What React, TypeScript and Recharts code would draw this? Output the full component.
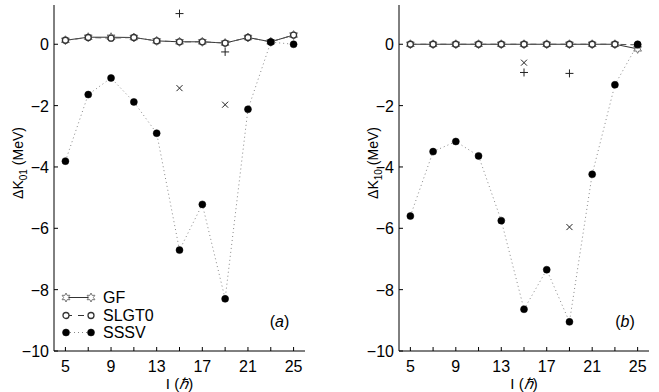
import type {ReactElement} from 'react';
import {ComposedChart, Line, XAxis, YAxis, Legend} from 'recharts';

const spins = [5, 7, 9, 11, 13, 15, 17, 19, 21, 23, 25];

// panel (a): ΔK01
const gfA = [0.13, 0.23, 0.23, 0.22, 0.11, 0.08, 0.08, 0.04, 0.22, 0.08, 0.3];
const slgt0A = [0.13, 0.22, 0.2, 0.22, 0.11, 0.08, 0.08, 0.04, 0.22, 0.08, 0.3];
const sssvA = [-3.81, -1.64, -1.1, -1.88, -2.9, -6.71, -5.22, -8.3, -2.12, 0.07, 0.0];
const plusA = [null, null, null, null, null, 1.0, null, -0.25, null, null, null];
const crossA = [null, null, null, null, null, -1.43, null, -1.97, null, null, null];

// panel (b): ΔK10
const gfB = [0, 0, 0, 0, 0, 0, 0, 0, 0, 0, -0.15];
const slgt0B = [0, 0, 0, 0, 0, 0, 0, 0, 0, 0, -0.02];
const sssvB = [-5.6, -3.5, -3.17, -3.64, -5.75, -8.64, -7.35, -9.05, -4.24, -1.32, 0.0];
const plusB = [null, null, null, null, null, -0.92, null, -0.95, null, null, null];
const crossB = [null, null, null, null, null, -0.6, null, -5.96, null, null, null];

const xTicks = [5, 7, 9, 11, 13, 15, 17, 19, 21, 23, 25];
const xLabels = [5, 9, 13, 17, 21, 25];
const yTicks = [-10, -8, -6, -4, -2, 0];

const FONT = '"Liberation Sans", Arial, sans-serif';

type Row = {
  spin: number;
  gf: number;
  slgt0: number;
  sssv: number;
  plus: number | null;
  cross: number | null;
};

const buildRows = (
  gf: number[],
  slgt0: number[],
  sssv: number[],
  plus: (number | null)[],
  cross: (number | null)[],
): Row[] =>
  spins.map((spin, i) => ({
    spin,
    gf: gf[i],
    slgt0: slgt0[i],
    sssv: sssv[i],
    plus: plus[i],
    cross: cross[i],
  }));

const rowsA = buildRows(gfA, slgt0A, sssvA, plusA, crossA);
const rowsB = buildRows(gfB, slgt0B, sssvB, plusB, crossB);

const fmt = (v: number) => String(v).replace('-', '\u2212');

// six pointed star marker
const starPath = (cx: number, cy: number, ro: number, ri: number) => {
  const pts: string[] = [];
  for (let k = 0; k < 12; k++) {
    const r = k % 2 === 0 ? ro : ri;
    const a = -Math.PI / 2 + (k * Math.PI) / 6;
    pts.push(`${(cx + r * Math.cos(a)).toFixed(2)},${(cy + r * Math.sin(a)).toFixed(2)}`);
  }
  return `M${pts.join('L')}Z`;
};

const Star = ({cx, cy}: {cx: number; cy: number}) => (
  <path d={starPath(cx, cy, 4.5, 2.4)} fill="#fff" stroke="#777" strokeWidth={1} />
);
const OpenCircle = ({cx, cy}: {cx: number; cy: number}) => (
  <circle cx={cx} cy={cy} r={3} fill="#fff" stroke="#333" strokeWidth={1.3} />
);
const FilledCircle = ({cx, cy}: {cx: number; cy: number}) => (
  <circle cx={cx} cy={cy} r={3.5} fill="#000" stroke="#000" strokeWidth={0.5} />
);

const validPoint = (p: any) =>
  p && p.cx != null && p.cy != null && p.value != null && !Number.isNaN(p.cy);

const starDot = (p: any) =>
  validPoint(p) ? <Star key={`s${p.index}`} cx={p.cx} cy={p.cy} /> : <g key={`s${p.index}`} />;
const circleDot = (p: any) =>
  validPoint(p) ? <OpenCircle key={`c${p.index}`} cx={p.cx} cy={p.cy} /> : <g key={`c${p.index}`} />;
const filledDot = (p: any) =>
  validPoint(p) ? <FilledCircle key={`f${p.index}`} cx={p.cx} cy={p.cy} /> : <g key={`f${p.index}`} />;
const plusDot = (p: any) =>
  validPoint(p) ? (
    <path
      key={`p${p.index}`}
      d={`M${p.cx - 4},${p.cy}H${p.cx + 4}M${p.cx},${p.cy - 4}V${p.cy + 4}`}
      stroke="#222"
      strokeWidth={1}
    />
  ) : (
    <g key={`p${p.index}`} />
  );
const crossDot = (p: any) =>
  validPoint(p) ? (
    <path
      key={`x${p.index}`}
      d={`M${p.cx - 3},${p.cy - 3}L${p.cx + 3},${p.cy + 3}M${p.cx - 3},${p.cy + 3}L${p.cx + 3},${p.cy - 3}`}
      stroke="#222"
      strokeWidth={1}
    />
  ) : (
    <g key={`x${p.index}`} />
  );

const BottomTick = (props: any) => {
  const {x, y, payload} = props;
  const v = payload.value as number;
  return (
    <g>
      <line x1={x} y1={y} x2={x} y2={y - 4} stroke="#000" />
      {xLabels.includes(v) && (
        <text x={x} y={y + 21} textAnchor="middle" fontSize={16} fontFamily={FONT} fill="#000">
          {v}
        </text>
      )}
    </g>
  );
};

const TopTick = (props: any) => (
  <line x1={props.x} y1={props.y} x2={props.x} y2={props.y + 4} stroke="#000" />
);

const LeftTick = (props: any) => {
  const {x, y, payload} = props;
  return (
    <g>
      <line x1={x} y1={y} x2={x + 4} y2={y} stroke="#000" />
      <text x={x - 5} y={y + 6} textAnchor="end" fontSize={16} fontFamily={FONT} fill="#000">
        {fmt(payload.value)}
      </text>
    </g>
  );
};

const RightTick = (props: any) => (
  <line x1={props.x} y1={props.y} x2={props.x - 4} y2={props.y} stroke="#000" />
);

const legendItems = [
  {key: 'gf', name: 'GF'},
  {key: 'slgt0', name: 'SLGT0'},
  {key: 'sssv', name: 'SSSV'},
];

const LegendSample = ({kind}: {kind: string}) => (
  <svg width={36} height={17}>
    {kind === 'gf' && (
      <>
        <line x1={5} y1={8.5} x2={30} y2={8.5} stroke="#333" strokeWidth={1} />
        <Star cx={5} cy={8.5} />
        <Star cx={30} cy={8.5} />
      </>
    )}
    {kind === 'slgt0' && (
      <>
        <line x1={5} y1={8.5} x2={30} y2={8.5} stroke="#333" strokeWidth={1} strokeDasharray="6 6" />
        <OpenCircle cx={5} cy={8.5} />
        <OpenCircle cx={30} cy={8.5} />
      </>
    )}
    {kind === 'sssv' && (
      <>
        <line x1={5} y1={8.5} x2={30} y2={8.5} stroke="#888" strokeWidth={1} strokeDasharray="1 3" />
        <FilledCircle cx={5} cy={8.5} />
        <FilledCircle cx={30} cy={8.5} />
      </>
    )}
  </svg>
);

const LegendBox = () => (
  <div style={{fontFamily: FONT, fontSize: 16, color: '#000'}}>
    {legendItems.map((item) => (
      <div key={item.key} style={{display: 'flex', alignItems: 'center', height: 17.5}}>
        <LegendSample kind={item.key} />
        <span style={{marginLeft: 6, lineHeight: '17px'}}>{item.name}</span>
      </div>
    ))}
  </div>
);

type PanelProps = {
  rows: Row[];
  sub: string;
  tag: string;
  left: number;
  width: number;
  marginRight: number;
  titleX: number;
  showLegend: boolean;
};

const DOMAIN_X: [number, number] = [4, 26];
const DOMAIN_Y: [number, number] = [-10, 1.28];

function Panel({rows, sub, tag, left, width, marginRight, titleX, showLegend}: PanelProps): ReactElement {
  const plotLeft = 54;
  const plotRight = width - marginRight;
  const centerX = (plotLeft + plotRight) / 2;
  return (
    <div style={{position: 'absolute', left, top: 0, width, height: 392}}>
      <ComposedChart
        width={width}
        height={392}
        data={rows}
        margin={{top: 5, right: marginRight, bottom: 1, left: 0}}
      >
        <XAxis
          dataKey="spin"
          type="number"
          domain={DOMAIN_X}
          ticks={xTicks}
          interval={0}
          allowDataOverflow
          height={40}
          tickSize={0}
          tickMargin={0}
          tickLine={false}
          tick={BottomTick}
          axisLine={{stroke: '#000'}}
          label={() => (
            <text x={centerX} y={389} textAnchor="middle" fontSize={15} fontFamily={FONT} fill="#000">
              I (<tspan fontStyle="italic">ℏ</tspan>)
            </text>
          )}
        />
        <XAxis
          xAxisId="top"
          orientation="top"
          dataKey="spin"
          type="number"
          domain={DOMAIN_X}
          ticks={xTicks}
          interval={0}
          allowDataOverflow
          height={0}
          tickSize={0}
          tickMargin={0}
          tickLine={false}
          tick={TopTick}
          axisLine={{stroke: '#000'}}
        />
        <YAxis
          type="number"
          domain={DOMAIN_Y}
          ticks={yTicks}
          interval={0}
          allowDataOverflow
          width={54}
          tickSize={0}
          tickMargin={0}
          tickLine={false}
          tick={LeftTick}
          axisLine={{stroke: '#000'}}
          label={() => (
            <text
              transform={`translate(${titleX},163) rotate(-90)`}
              textAnchor="middle"
              fontSize={14}
              fontFamily={FONT}
              fill="#000"
            >
              ΔK
              <tspan fontSize={10} dy={4}>
                {sub}
              </tspan>
              <tspan dy={-4}> (MeV)</tspan>
            </text>
          )}
        />
        <YAxis
          yAxisId="right"
          orientation="right"
          type="number"
          domain={DOMAIN_Y}
          ticks={yTicks}
          interval={0}
          allowDataOverflow
          width={0}
          tickSize={0}
          tickMargin={0}
          tickLine={false}
          tick={RightTick}
          axisLine={{stroke: '#000'}}
        />
        {showLegend && (
          <Legend
            layout="vertical"
            align="center"
            verticalAlign="middle"
            content={() => <LegendBox />}
            wrapperStyle={{left: 61, top: 289, width: 130}}
          />
        )}
        <Line
          dataKey="gf"
          name="GF"
          stroke="#333"
          strokeWidth={1}
          dot={starDot}
          activeDot={false}
          isAnimationActive={false}
        />
        <Line
          dataKey="slgt0"
          name="SLGT0"
          stroke="#555"
          strokeWidth={1}
          strokeDasharray="6 4"
          dot={circleDot}
          activeDot={false}
          isAnimationActive={false}
        />
        <Line
          dataKey="plus"
          name="plus"
          stroke="none"
          legendType="none"
          dot={plusDot}
          activeDot={false}
          connectNulls={false}
          isAnimationActive={false}
        />
        <Line
          dataKey="cross"
          name="cross"
          stroke="none"
          legendType="none"
          dot={crossDot}
          activeDot={false}
          connectNulls={false}
          isAnimationActive={false}
        />
        <Line
          dataKey="sssv"
          name="SSSV"
          stroke="#888"
          strokeWidth={1}
          strokeDasharray="1 3"
          dot={filledDot}
          activeDot={false}
          isAnimationActive={false}
        />
      </ComposedChart>
      <div
        style={{
          position: 'absolute',
          left: centerX + (tag === 'a' ? 100 : 101) - 15,
          top: 313,
          width: 30,
          textAlign: 'center',
          fontFamily: FONT,
          fontSize: 16,
          lineHeight: '18px',
        }}
      >
        (<i>{tag}</i>)
      </div>
    </div>
  );
}

export default function App(): ReactElement {
  return (
    <div
      style={{
        position: 'absolute',
        left: 0,
        top: 0,
        width: 659,
        height: 392,
        background: '#fff',
        overflow: 'hidden',
      }}
    >
      <Panel rows={rowsA} sub="01" tag="a" left={0} width={320} marginRight={15} titleX={23} showLegend />
      <Panel rows={rowsB} sub="10" tag="b" left={345} width={314} marginRight={10} titleX={33} showLegend={false} />
    </div>
  );
}
